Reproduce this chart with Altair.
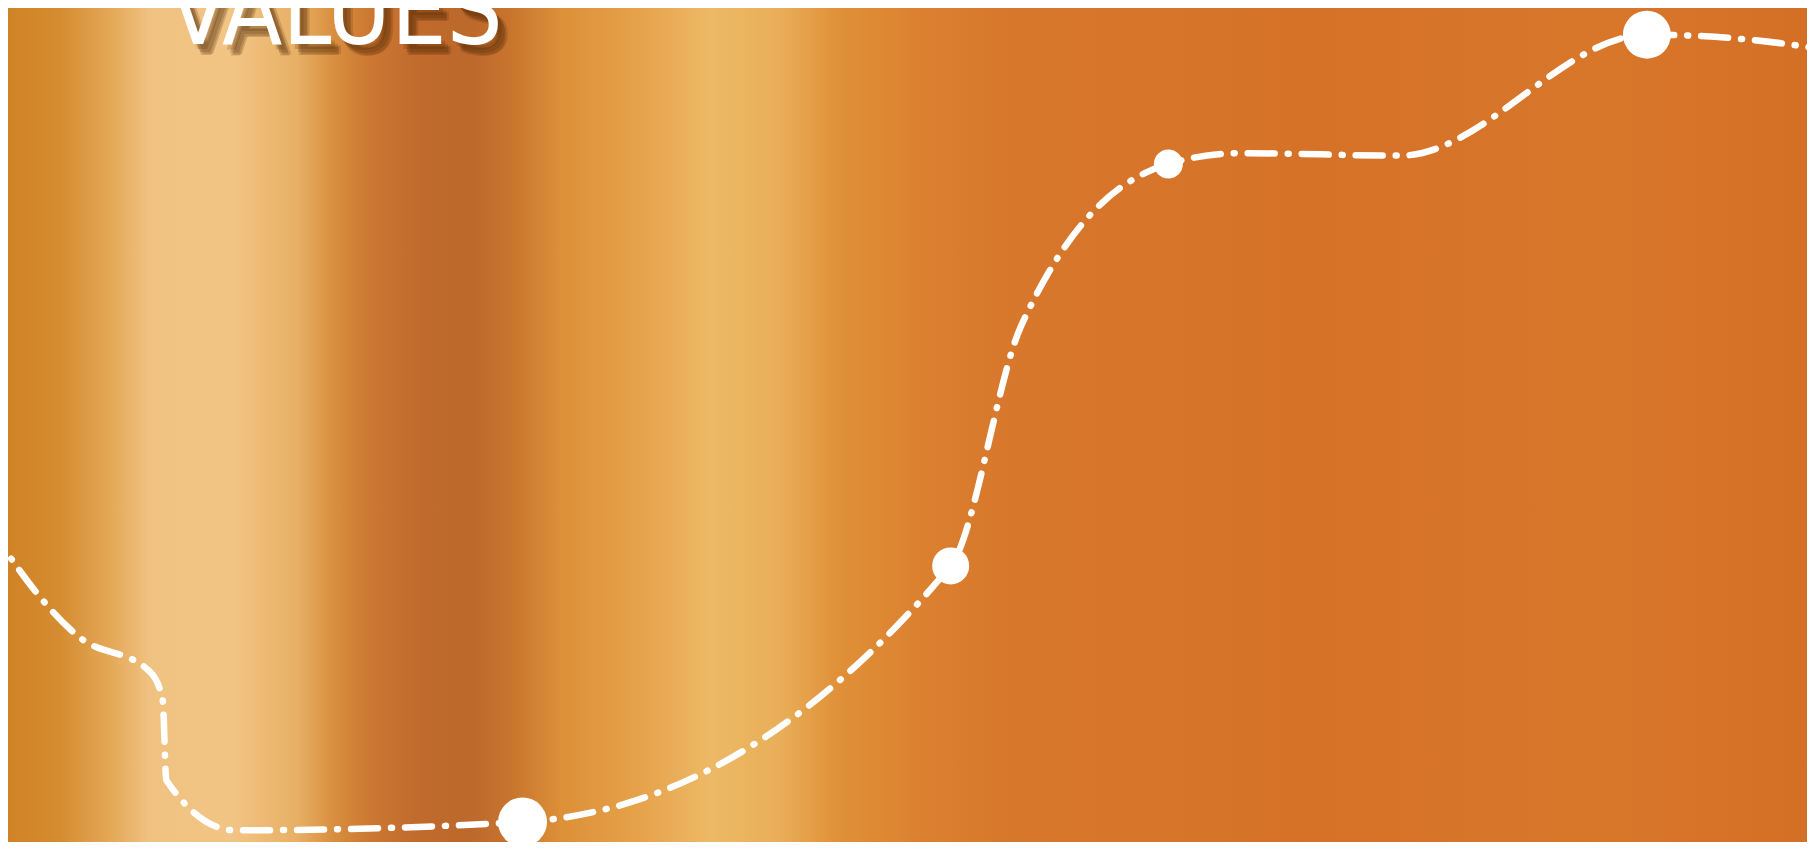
import altair as alt
import pandas as pd

# ---- data ----
path_x = [-2.7, 4.0, 7.9, 8.6, 8.8, 12.6, 28.6, 52.4, 56.3, 64.5, 68.5, 77.4, 91.1, 100.4, 105.2]
path_y = [43.4, 24.5, 20.4, 17.0, 7.4, 1.4, 2.4, 33.1, 61.8, 81.3, 82.6, 82.3, 96.8, 95.2, 92.6]
marker = [0, 0, 0, 0, 0, 0, 9.8, 7.4, 0, 5.8, 0, 0, 9.6, 0, 0]
title_text = "VALUES"

W, H = 1799, 834

df = pd.DataFrame({"idx": list(range(len(path_x))), "x": path_x, "y": path_y, "m": marker})

xs = alt.Scale(domain=[0, 100], zero=False, nice=False)
ys = alt.Scale(domain=[0, 100], zero=False, nice=False)

stops = [
    (0.000, "#d08226"), (0.029, "#d58c30"), (0.057, "#e4a858"), (0.079, "#f0c282"),
    (0.123, "#f2c585"), (0.160, "#e8b066"), (0.180, "#d99040"), (0.201, "#cc7832"),
    (0.229, "#c06a2c"), (0.257, "#bd682c"), (0.279, "#c8742e"), (0.307, "#dc9038"),
    (0.351, "#e6a24a"), (0.390, "#edb966"), (0.429, "#e9ae58"), (0.462, "#e09038"),
    (0.507, "#db8130"), (0.551, "#d8782c"), (0.718, "#d57228"), (0.885, "#d8762a"),
    (1.000, "#d47026"),
]
grad = alt.LinearGradient(
    gradient="linear", x1=0, x2=1, y1=0, y2=0,
    stops=[alt.GradientStop(offset=o, color=c) for o, c in stops],
)

bg = alt.Chart(alt.Data(values=[{}])).mark_rect(fill=grad).encode(
    x=alt.value(0), x2=alt.value(W), y=alt.value(0), y2=alt.value(H)
)

font = "Liberation Sans Narrow, DejaVu Sans Condensed, Roboto, sans-serif"
FS = 98
TX, TY = 160, 36
shadow_layers = []
for dx, dy in [(4, 5), (7, 8), (10, 10), (8, 11)]:
    shadow_layers.append(
        alt.Chart(alt.Data(values=[{}])).mark_text(
            text=title_text, font=font, fontSize=FS, align="left", baseline="alphabetic",
            color="#4a2200", opacity=0.18, dx=dx, dy=dy,
        ).encode(x=alt.value(TX), y=alt.value(TY))
    )

title = alt.Chart(alt.Data(values=[{}])).mark_text(
    text=title_text, font=font, fontSize=FS, align="left", baseline="alphabetic",
    color="white",
).encode(x=alt.value(TX), y=alt.value(TY))

line = alt.Chart(df).mark_line(
    interpolate="monotone", color="white", strokeWidth=6.5,
    strokeDash=[27, 13, 1, 13], strokeCap="round", clip=True,
).encode(
    x=alt.X("x:Q", scale=xs, axis=None),
    y=alt.Y("y:Q", scale=ys, axis=None),
    order="idx:Q",
)

points = alt.Chart(df).transform_filter("datum.m > 0").mark_circle(
    color="white", opacity=1,
).encode(
    x=alt.X("x:Q", scale=xs, axis=None),
    y=alt.Y("y:Q", scale=ys, axis=None),
    size=alt.Size("m:Q", scale=alt.Scale(type="pow", exponent=2, domain=[0, 10], range=[0, 2500]), legend=None),
)

chart = alt.layer(bg, *shadow_layers, title, line, points).properties(
    width=W, height=H, padding=0,
    autosize=alt.AutoSizeParams(type="none"),
    background="#d87a2c",
).configure_view(stroke=None)

chart.save("out.html", embed_options={"renderer": "svg", "actions": False})
